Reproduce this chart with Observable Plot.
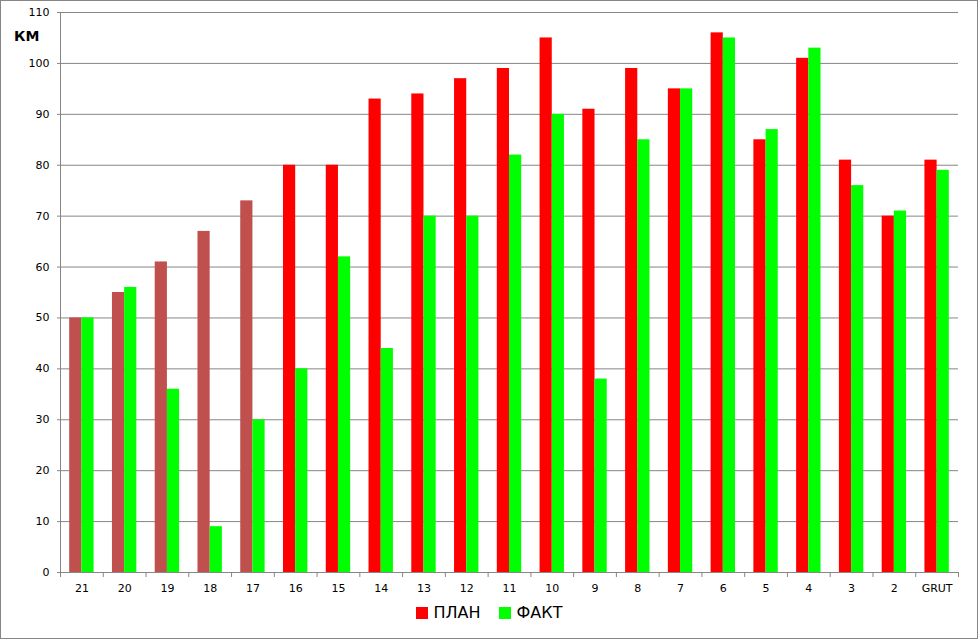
<!DOCTYPE html>
<html>
<head>
<meta charset="utf-8">
<script src="https://cdn.jsdelivr.net/npm/d3@7"></script>
<script src="https://cdn.jsdelivr.net/npm/@observablehq/plot@0.6"></script>
<style>
  html, body { margin: 0; padding: 0; background: #fff; }
  #wrap { position: relative; width: 978px; height: 639px; overflow: hidden; font-family: "DejaVu Sans", sans-serif; }
  #border { position: absolute; left: 0; top: 0; width: 978px; height: 639px; box-sizing: border-box; border: 1px solid #868686; pointer-events: none; }
  #chart { position: absolute; left: 0; top: 0; }
  #unit { position: absolute; left: 14px; top: 28px; font-size: 14px; font-weight: bold; color: #000; }
  #legend { position: absolute; left: 0; top: 600px; width: 978px; height: 25px; display: flex; justify-content: center; align-items: center; font-size: 16px; color: #000; }
  .sw { display: inline-block; width: 12px; height: 12px; margin-right: 6px; }
  .item { display: flex; align-items: center; margin: 0 9px; }
</style>
</head>
<body>
<div id="wrap">
  <div id="chart"></div>
  <div id="unit">КМ</div>
  <div id="legend"></div>
  <div id="border"></div>
</div>
<script>
const categories = ["21","20","19","18","17","16","15","14","13","12","11","10","9","8","7","6","5","4","3","2","GRUT"];
const plan = [50,55,61,67,73,80,80,93,94,97,99,105,91,99,95,106,85,101,81,70,81];
const fact = [50,56,36,9,30,40,62,44,70,70,82,90,38,85,95,105,87,103,76,71,79];
const seriesNames = ["ПЛАН", "ФАКТ"];
const yTicks = [0,10,20,30,40,50,60,70,80,90,100,110];

const W = 978, H = 600;
const mL = 60, mR = 20, mT = 12, mB = 28;
const step = (W - mL - mR) / categories.length;
const off = 0.215 * step, bw = 0.285 * step;

const data = categories.map((c, i) => ({cat: c, plan: plan[i], fact: fact[i], idx: i}));
const grid = "#868686";

const chart = Plot.plot({
  width: W, height: H,
  marginLeft: mL, marginRight: mR, marginTop: mT, marginBottom: mB,
  style: {fontFamily: "DejaVu Sans", fontSize: "11px", color: "#000", background: "transparent"},
  x: {domain: categories, padding: 0, round: false, axis: null, label: null},
  y: {domain: [0, 110], axis: null, label: null},
  color: {type: "identity"},
  marks: [
    Plot.gridY(yTicks, {stroke: grid, strokeOpacity: 1}),
    Plot.barY(data, {x: "cat", y: "plan", fill: d => d.idx < 5 ? "#C0504D" : "#FF0000",
      insetLeft: off, insetRight: step - off - bw}),
    Plot.barY(data, {x: "cat", y: "fact", fill: "#00FF00",
      insetLeft: off + bw, insetRight: step - off - 2 * bw}),
    Plot.ruleY([0], {stroke: grid}),
    Plot.ruleX([categories[0]], {stroke: grid, dx: -step / 2}),
    Plot.axisY({ticks: yTicks, tickSize: 3, tickPadding: 8, stroke: grid, fill: "#000", fontSize: 11, label: null}),
    Plot.axisX({ticks: categories, tickSize: 5, tickFormat: () => "", stroke: grid, dx: -step / 2, label: null}),
    Plot.axisX({ticks: [categories[categories.length - 1]], tickSize: 5, tickFormat: () => "", stroke: grid, dx: step / 2, label: null}),
    Plot.axisX({ticks: categories, tickSize: 0, tickPadding: 12, fill: "#000", fontSize: 11, label: null})
  ]
});
document.getElementById("chart").appendChild(chart);

const legendColors = ["#FF0000", "#00FF00"];
const leg = document.getElementById("legend");
seriesNames.forEach((n, i) => {
  const it = document.createElement("div");
  it.className = "item";
  it.innerHTML = `<span class="sw" style="background:${legendColors[i]}"></span><span>${n}</span>`;
  leg.appendChild(it);
});
</script>
</body>
</html>
